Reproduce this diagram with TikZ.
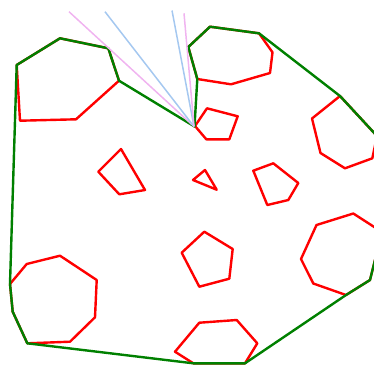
\documentclass[tikz,border=0pt]{standalone}
\usepackage{tikz}
\tikzset{
  poly/.style={draw=red, line width=2.4pt, line join=round},
  hull/.style={draw=green!50!black, line width=2.4pt, line join=round},
  ray pink/.style={draw={rgb,255:red,240;green,180;blue,240}, line width=1.5pt},
  ray blue/.style={draw={rgb,255:red,165;green,200;blue,240}, line width=1.5pt}
}
\begin{document}
\begin{tikzpicture}[x=1pt,y=-1pt]
\useasboundingbox (0,0) rectangle (374,368);
\clip (0,0) rectangle (374,368);
% red polygons
\draw[poly] (16.7,65)--(60,38.3)--(108.3,48.3)--(119,80.7)--(76,119.3)--(20,120.7)--cycle;
\draw[poly] (188.3,47)--(210,26.7)--(259,33.3)--(272.5,52.3)--(270,73)--(231,84.3)--(197.3,79)--cycle;
\draw[poly] (340,96)--(312,118.5)--(320.5,153)--(345,168.3)--(372.3,158.3)--(377,136)--cycle;
\draw[poly] (98.3,171.7)--(121,149)--(145,190)--(119.3,194.3)--cycle;
\draw[poly] (195,126)--(207,108.3)--(237.7,116.3)--(229.3,139.3)--(206.3,139.3)--cycle;
\draw[poly] (193,180)--(205,170)--(216.7,189.7)--cycle;
\draw[poly] (253.3,170.7)--(273.3,163.3)--(298.3,183)--(288.3,200)--(267.3,205)--cycle;
\draw[poly] (181.7,252.7)--(204.3,231.7)--(232.7,249)--(229.3,278.7)--(199.3,286.7)--cycle;
\draw[poly] (301,259)--(316.5,225)--(353.3,213.5)--(382,232)--(370,280)--(346,295)--(313.3,283.5)--cycle;
\draw[poly] (175,351.7)--(199.3,322.7)--(236.7,320)--(257.3,343.3)--(245,363.3)--(193.3,363.3)--cycle;
\draw[poly] (10,284)--(26.7,264)--(60,255.7)--(96.7,280)--(95,317.3)--(70,341.7)--(27.3,343.3)--(12.7,311.7)--cycle;
% hull
\draw[hull] (16.7,65)--(60,38.3)--(108.3,48.3)--(119,80.7)--(194.5,126.5)--(197.3,79)--(188.3,47)--(210,26.7)--(259,33.3)--(340,96)--(377,136)--(390,180)--(382,232)--(370,280)--(346,295)--(245,363.3)--(193.3,363.3)--(27.3,343.3)--(12.7,311.7)--(10,284)--cycle;
% rays
\coordinate (apex) at (194,126.5);
\coordinate (p1) at (69,11.7);
\coordinate (b1) at (105,11.7);
\coordinate (b2) at (172,10.5);
\coordinate (p2) at (184,13.3);
\draw[ray pink] (p1)--(apex);
\draw[ray blue] (b1)--(apex);
\draw[ray blue] (b2)--(apex);
\draw[ray pink] (p2)--(apex);
\end{tikzpicture}
\end{document}
